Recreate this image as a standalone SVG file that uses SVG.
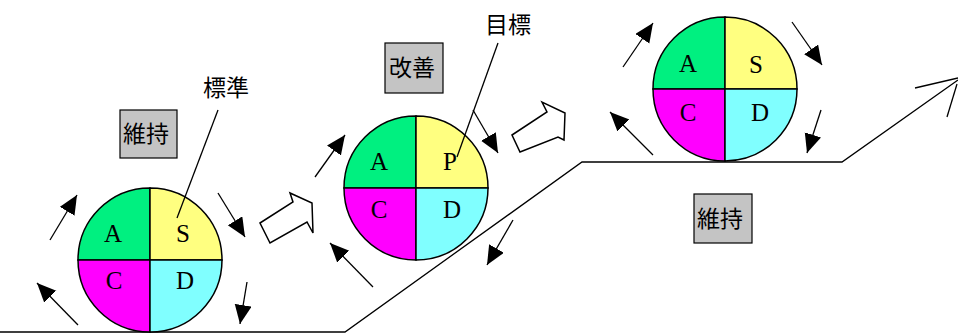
<svg xmlns="http://www.w3.org/2000/svg" width="958" height="334" viewBox="0 0 958 334">
<defs>
<marker id="ah" markerUnits="userSpaceOnUse" markerWidth="20" markerHeight="18" refX="19" refY="8.5" orient="auto">
<path d="M0,0 L19,8.5 L0,17 Z" fill="#000"/>
</marker>
</defs>
<style>
.q{stroke:#000;stroke-width:1.5}
.g{fill:#00F080}.y{fill:#FFFF80}.m{fill:#FF00FF}.c{fill:#80FFFF}
.l{font-family:"Liberation Serif",serif;font-size:25px;fill:#000;text-anchor:middle}
.j{font-family:"Noto Sans CJK JP","Noto Sans CJK SC",sans-serif;font-size:23px;fill:#000;text-anchor:middle}
.box{fill:#C4C4C4;stroke:#000;stroke-width:1.2}
.ln{stroke:#000;stroke-width:1.3;fill:none}
.ar{stroke:#000;stroke-width:1.3;fill:none;marker-end:url(#ah)}
.blk{fill:#fff;stroke:#000;stroke-width:1.5;stroke-linejoin:miter}
</style>
<rect width="958" height="334" fill="#fff"/>

<g id="ground">
<polyline class="ln" points="0,332 345,332 582,162 842,162 958,80"/>
<line class="ln" x1="915" y1="88" x2="958" y2="78"/>
<line class="ln" x1="947" y1="117" x2="957" y2="84"/>
</g>

<g id="pdca1">
<path class="q g" d="M150,260 L78,260 A72,72 0 0 1 150,188 Z"/>
<path class="q y" d="M150,260 L150,188 A72,72 0 0 1 222,260 Z"/>
<path class="q m" d="M150,260 L150,332 A72,72 0 0 1 78,260 Z"/>
<path class="q c" d="M150,260 L222,260 A72,72 0 0 1 150,332 Z"/>
<text class="l" x="113" y="242">A</text>
<text class="l" x="183" y="242">S</text>
<text class="l" x="114" y="289">C</text>
<text class="l" x="185" y="289">D</text>
</g>

<g id="pdca2">
<path class="q g" d="M416,188 L344,188 A72,72 0 0 1 416,116 Z"/>
<path class="q y" d="M416,188 L416,116 A72,72 0 0 1 488,188 Z"/>
<path class="q m" d="M416,188 L416,260 A72,72 0 0 1 344,188 Z"/>
<path class="q c" d="M416,188 L488,188 A72,72 0 0 1 416,260 Z"/>
<text class="l" x="379" y="170">A</text>
<text class="l" x="450" y="170">P</text>
<text class="l" x="379" y="218">C</text>
<text class="l" x="452" y="218">D</text>
</g>

<g id="pdca3">
<path class="q g" d="M725,89 L653,89 A72,72 0 0 1 725,17 Z"/>
<path class="q y" d="M725,89 L725,17 A72,72 0 0 1 797,89 Z"/>
<path class="q m" d="M725,89 L725,161 A72,72 0 0 1 653,89 Z"/>
<path class="q c" d="M725,89 L797,89 A72,72 0 0 1 725,161 Z"/>
<text class="l" x="688" y="72">A</text>
<text class="l" x="756" y="73">S</text>
<text class="l" x="688" y="121">C</text>
<text class="l" x="760" y="121">D</text>
</g>

<g id="label-iji1">
<rect class="box" x="120" y="110" width="57" height="48"/>
<text class="j" x="146" y="142">維持</text>
</g>
<g id="label-kaizen">
<rect class="box" x="385" y="43" width="58" height="50"/>
<text class="j" x="412" y="76">改善</text>
</g>
<g id="label-iji2">
<rect class="box" x="694" y="194" width="58" height="49"/>
<text class="j" x="720" y="227">維持</text>
</g>
<g id="label-hyojun">
<text class="j" x="226" y="96">標準</text>
</g>
<g id="label-mokuhyo">
<text class="j" x="508" y="33">目標</text>
</g>

<g id="connectors">
<line class="ln" x1="218" y1="110" x2="177" y2="218"/>
<line class="ln" x1="498" y1="43" x2="457" y2="157"/>

<line class="ar" x1="50" y1="240" x2="77" y2="195"/>
<line class="ar" x1="218" y1="193" x2="245" y2="237"/>
<line class="ar" x1="247" y1="282" x2="240" y2="324"/>
<line class="ar" x1="78" y1="325" x2="37" y2="283"/>

<line class="ar" x1="315" y1="177" x2="345" y2="135"/>
<line class="ar" x1="473" y1="110" x2="498" y2="153"/>
<line class="ar" x1="513" y1="220" x2="487" y2="265"/>
<line class="ar" x1="373" y1="287" x2="330" y2="243"/>

<line class="ar" x1="623" y1="67" x2="653" y2="23"/>
<line class="ar" x1="792" y1="22" x2="822" y2="65"/>
<line class="ar" x1="821" y1="110" x2="807" y2="153"/>
<line class="ar" x1="653" y1="155" x2="610" y2="112"/>

<polygon class="blk" points="260,223 293,202 290,193 312,203 313,233 307,222 270,243"/>
<polygon class="blk" points="512,135 547,112 542,102 565,113 564,140 558,137 520,152"/>
</g>
</svg>
